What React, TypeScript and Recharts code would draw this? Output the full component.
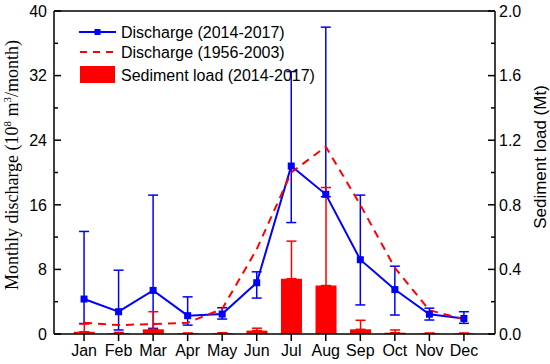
import { ComposedChart, Line, Bar, XAxis, YAxis, ErrorBar, ReferenceLine } from 'recharts';

const months = ['Jan', 'Feb', 'Mar', 'Apr', 'May', 'Jun', 'Jul', 'Aug', 'Sep', 'Oct', 'Nov', 'Dec'];

// discharge 2014-2017 (10^8 m3/month), mean with min/max
const dischargeRecent = [4.33, 2.76, 5.4, 2.27, 2.47, 6.35, 20.8, 17.3, 9.2, 5.5, 2.45, 1.92];
const dischargeRecentHigh = [12.7, 7.9, 17.2, 4.6, 3.25, 7.7, 32.5, 38.0, 17.2, 8.4, 3.2, 2.76];
const dischargeRecentLow = [1.3, 0.5, 0.7, 1.1, 1.85, 4.45, 13.8, 17.0, 3.6, 2.35, 1.73, 1.32];

// discharge 1956-2003
const dischargeHistoric = [1.4, 1.1, 1.24, 1.4, 3.1, 10.5, 20.0, 23.2, 16.0, 8.2, 2.95, 1.82];

// sediment load 2014-2017 (Mt) and upper bound
const sediment = [0.014, 0.004, 0.029, 0.003, 0.004, 0.021, 0.342, 0.3, 0.029, 0.008, 0.003, 0.003];
const sedimentHigh = [0.062, 0.01, 0.138, 0.006, 0.008, 0.036, 0.575, 0.907, 0.085, 0.025, 0.006, 0.006];

const leftTicks = [0, 4, 8, 12, 16, 20, 24, 28, 32, 36, 40];
const rightTicks = [0, 0.2, 0.4, 0.6, 0.8, 1.0, 1.2, 1.4, 1.6, 1.8, 2.0];
const monthTicks = [1, 2, 3, 4, 5, 6, 7, 8, 9, 10, 11, 12];

const data = months.map((m, i) => ({
  month: i + 1,
  name: m,
  recent: dischargeRecent[i],
  recentErr: [dischargeRecent[i] - dischargeRecentLow[i], dischargeRecentHigh[i] - dischargeRecent[i]],
  historic: dischargeHistoric[i],
  sediment: sediment[i],
  sedimentErr: [0, sedimentHigh[i] - sediment[i]],
}));

const BLUE = '#0000ff';
const RED = '#ff0000';
const SANS = '"Liberation Sans", Arial, sans-serif';
const SERIF = '"Liberation Serif", "Times New Roman", serif';

function LeftTick({ x, y, payload }: any) {
  const major = payload.value % 8 === 0;
  return (
    <g>
      <line x1={x + 7} x2={x + 7 + (major ? 7 : 4)} y1={y} y2={y} stroke="#000" strokeWidth={1.5} />
      {major && (
        <text x={x} y={y} dy="0.36em" textAnchor="end" fontSize={16} fontFamily={SANS} fill="#000">
          {payload.value}
        </text>
      )}
    </g>
  );
}

function RightTick({ x, y, payload }: any) {
  const major = Math.round(payload.value * 10) % 4 === 0;
  return (
    <g>
      <line x1={x - 4} x2={x - 4 - (major ? 7 : 4)} y1={y} y2={y} stroke="#000" strokeWidth={1.5} />
      {major && (
        <text x={x} y={y} dy="0.36em" textAnchor="start" fontSize={16} fontFamily={SANS} fill="#000">
          {payload.value.toFixed(1)}
        </text>
      )}
    </g>
  );
}

function SquareDot({ cx, cy, index }: any) {
  return <rect key={`sq-${index}`} x={cx - 3.5} y={cy - 3.5} width={7} height={7} fill={BLUE} />;
}

export default function App() {
  return (
    <div style={{ position: 'absolute', left: 0, top: 0, width: 550, height: 364, background: '#fff' }}>
      <ComposedChart width={550} height={364} data={data} margin={{ top: 11, right: 0, bottom: 0, left: 0 }}>
        <XAxis
          dataKey="month"
          type="number"
          domain={[0.13, 12.9]}
          ticks={monthTicks}
          allowDataOverflow
          tickFormatter={(v: number) => months[v - 1]}
          height={30}
          tickSize={7}
          tickMargin={4}
          axisLine={{ stroke: '#000', strokeWidth: 1.5 }}
          tickLine={{ stroke: '#000', strokeWidth: 1.5 }}
          tick={{ fill: '#000', fontSize: 16, fontFamily: SANS }}
        />
        <YAxis
          yAxisId="left"
          orientation="left"
          width={54}
          domain={[0, 40]}
          ticks={leftTicks}
          interval={0}
          tickSize={0}
          tickMargin={7}
          tickLine={false}
          axisLine={{ stroke: '#000', strokeWidth: 1.5 }}
          tick={<LeftTick />}
        />
        <YAxis
          yAxisId="right"
          orientation="right"
          width={55}
          domain={[0, 2]}
          ticks={rightTicks}
          interval={0}
          tickSize={0}
          tickMargin={4}
          tickLine={false}
          axisLine={{ stroke: '#000', strokeWidth: 1.5 }}
          tick={<RightTick />}
        />
        <ReferenceLine yAxisId="left" y={40} stroke="#000" strokeWidth={1.5} />
        <Line
          yAxisId="left"
          dataKey="recent"
          stroke={BLUE}
          strokeWidth={2}
          dot={SquareDot}
          activeDot={false}
          isAnimationActive={false}
        >
          <ErrorBar dataKey="recentErr" width={5} stroke={BLUE} strokeWidth={1.5} direction="y" />
        </Line>
        <Line
          yAxisId="left"
          dataKey="historic"
          stroke={RED}
          strokeWidth={2}
          strokeDasharray="8 6"
          dot={false}
          activeDot={false}
          isAnimationActive={false}
        />
        <Bar yAxisId="right" dataKey="sediment" fill={RED} barSize={21} isAnimationActive={false}>
          <ErrorBar dataKey="sedimentErr" width={5} stroke={RED} strokeWidth={1.5} direction="y" />
        </Bar>
      </ComposedChart>
      <svg
        width={550}
        height={364}
        style={{ position: 'absolute', left: 0, top: 0, pointerEvents: 'none' }}
      >
        <text
          transform="translate(18,165) rotate(-90)"
          textAnchor="middle"
          fontSize={18}
          fontFamily={SERIF}
          fill="#000"
        >
          Monthly discharge (10
          <tspan fontSize={11} dy={-7}>8</tspan>
          <tspan dy={7}> m</tspan>
          <tspan fontSize={11} dy={-7}>3</tspan>
          <tspan dy={7}>/month)</tspan>
        </text>
        <text
          transform="translate(546,157) rotate(-90)"
          textAnchor="middle"
          fontSize={17}
          fontFamily={SANS}
          fill="#000"
        >
          Sediment load (Mt)
        </text>
        <g fontFamily={SANS} fontSize={16} fill="#000">
          <line x1={79} x2={116} y1={32} y2={32} stroke={BLUE} strokeWidth={2} />
          <rect x={94.5} y={29} width={6} height={6} fill={BLUE} />
          <text x={121} y={37.5}>Discharge (2014-2017)</text>
          <line x1={80} x2={116} y1={52} y2={52} stroke={RED} strokeWidth={2} strokeDasharray="7 6" />
          <text x={121} y={57.5}>Discharge (1956-2003)</text>
          <rect x={80} y={66} width={35} height={17} fill={RED} />
          <text x={121} y={81}>Sediment load (2014-2017)</text>
        </g>
      </svg>
    </div>
  );
}
